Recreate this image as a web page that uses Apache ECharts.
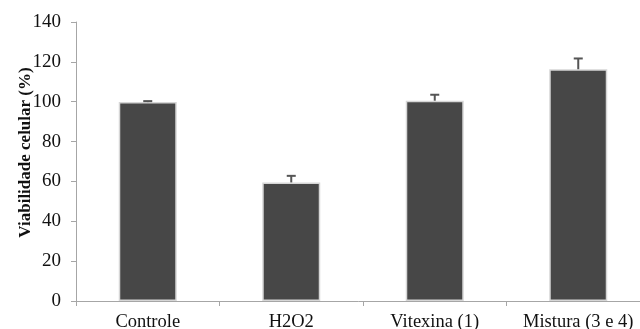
<!DOCTYPE html>
<html><head><meta charset="utf-8">
<script src="https://cdn.jsdelivr.net/npm/echarts@6/dist/echarts.min.js"></script>
<style>html,body{margin:0;padding:0;background:#fff}#c{width:640px;height:329px}</style>
</head><body><div id="c"></div>
<script>
var categories = ['Controle', 'H2O2', 'Vitexina (1)', 'Mistura (3 e 4)'];
var values = [99.8, 59.5, 100.5, 116.3];
var errors = [0.5, 3.3, 3.0, 5.4];
var yTicks = [0, 20, 40, 60, 80, 100, 120, 140];

var chart = echarts.init(document.getElementById('c'));
var serif = 'Liberation Serif';
chart.setOption({
  animation: false,
  grid: {left: 76, width: 574, top: 22, height: 279, containLabel: false, outerBoundsMode: 'none'},
  xAxis: {
    type: 'category', data: categories,
    axisLine: {lineStyle: {color: '#a6a6a6', width: 1}},
    axisTick: {show: true, length: 5, lineStyle: {color: '#a6a6a6'}},
    axisLabel: {fontFamily: serif, fontSize: 18.5, color: '#111', margin: 12, interval: 0, hideOverlap: false}
  },
  yAxis: {
    type: 'value', min: yTicks[0], max: yTicks[yTicks.length - 1], interval: 20,
    name: 'Viabilidade celular (%)', nameLocation: 'middle', nameGap: 42, nameMoveOverlap: false,
    nameTextStyle: {fontFamily: serif, fontSize: 17, fontWeight: 'bold', color: '#111', padding: [0, 0, 0, 18]},
    axisLine: {show: true, lineStyle: {color: '#a6a6a6', width: 1}},
    axisTick: {show: true, length: 5, lineStyle: {color: '#a6a6a6'}},
    splitLine: {show: false},
    axisLabel: {fontFamily: serif, fontSize: 19, color: '#111', margin: 15}
  },
  series: [{
    type: 'bar', data: values, barWidth: 58,
    itemStyle: {color: '#474747', borderColor: '#d6d6d6', borderWidth: 1.5}
  }, {
    type: 'custom',
    data: values.map(function (v, i) { return [i, v, v + errors[i]]; }),
    renderItem: function (params, api) {
      var base = api.coord([api.value(0), api.value(1)]);
      var top = api.coord([api.value(0), api.value(2)]);
      var x = base[0], w = 4.5;
      var st = {stroke: '#555', lineWidth: 2};
      return {type: 'group', children: [
        {type: 'line', shape: {x1: x, y1: base[1], x2: x, y2: top[1]}, style: st},
        {type: 'line', shape: {x1: x - w, y1: top[1], x2: x + w, y2: top[1]}, style: st}
      ]};
    },
    z: 5
  }]
});
</script></body></html>
